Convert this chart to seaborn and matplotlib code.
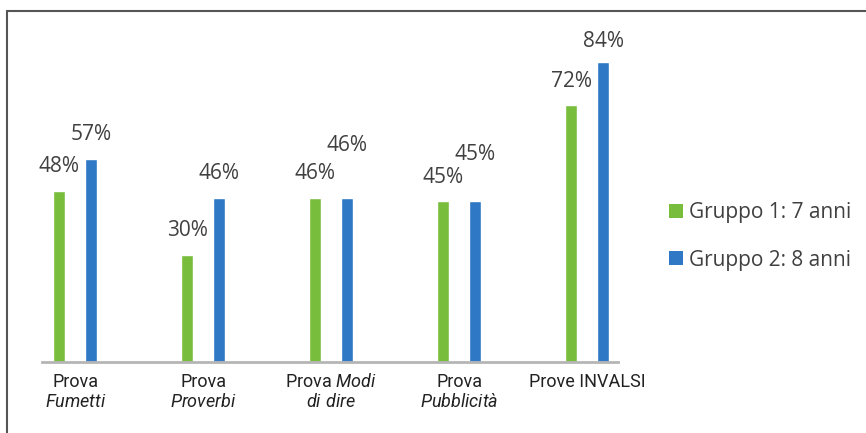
import matplotlib
matplotlib.use("Agg")
import matplotlib.pyplot as plt
from matplotlib.lines import Line2D
from matplotlib.patches import Patch
import seaborn as sns
import pandas as pd

# ---- data ----
categories = ["Prova Fumetti", "Prova Proverbi", "Prova Modi di dire",
              "Prova Pubblicità", "Prove INVALSI"]
tick_labels = ["Prova\n$Fumetti$", "Prova\n$Proverbi$", "Prova $Modi$\n$di\\ dire$",
               "Prova\n$Pubblicità$", "Prove INVALSI"]
groups = ["Gruppo 1: 7 anni", "Gruppo 2: 8 anni"]
gruppo1 = [48, 30, 46, 45, 72]
gruppo2 = [57, 46, 46, 45, 84]

# ---- style ----
colors = ["#79bd3c", "#2f78c5"]
label_dy_px = [[24, 24, 24, 24, 23], [24, 24, 52, 47, 21]]

sns.set_style("white")
plt.rcParams["font.family"] = ["Open Sans", "DejaVu Sans"]
plt.rcParams["mathtext.fontset"] = "custom"
plt.rcParams["mathtext.rm"] = "Roboto"
plt.rcParams["mathtext.it"] = "Roboto:italic"
plt.rcParams["mathtext.default"] = "it"

df = pd.DataFrame({
    "categoria": categories * 2,
    "gruppo": [groups[0]] * len(categories) + [groups[1]] * len(categories),
    "valore": gruppo1 + gruppo2,
})

fig = plt.figure(figsize=(8.66, 4.33), dpi=100, facecolor="white")
ax = fig.add_axes([42 / 866, 1 - 362 / 433, 576 / 866, (362 - 40.7) / 433])

sns.barplot(data=df, x="categoria", y="valore", hue="gruppo", order=categories,
            hue_order=groups, palette=colors, width=0.5, gap=0.625,
            saturation=1, legend=False, ax=ax, errorbar=None)

ax.set_xlim(-0.26, 4.24)
ax.set_ylim(0, 90)
ax.set_xlabel("")
ax.set_ylabel("")
ax.set_yticks([])
ax.set_xticks(range(len(categories)))
ax.set_xticklabels(tick_labels, fontsize=13, color="#222222", family="Roboto",
                   linespacing=1.15)
ax.tick_params(axis="x", length=0, pad=8)
for s in ["top", "right", "left"]:
    ax.spines[s].set_visible(False)
ax.spines["bottom"].set_color("#b5b5b5")
ax.spines["bottom"].set_linewidth(2)
ax.set_facecolor("none")

for gi, cont in enumerate(ax.containers):
    for ci, bar in enumerate(cont):
        h = bar.get_height()
        ax.annotate(f"{h:.0f}%", xy=(bar.get_x() + bar.get_width() / 2, h),
                    xytext=(0, label_dy_px[gi][ci]), textcoords="offset pixels",
                    ha="center", va="center", fontsize=15, color="#404040")

handles = [Patch(facecolor=c, edgecolor="none") for c in colors]
fig.legend(handles, groups, loc="center left",
           bbox_to_anchor=(669 / 866, 1 - 236.5 / 433), frameon=False,
           fontsize=15, handlelength=0.65, handleheight=0.65,
           handletextpad=0.3, labelspacing=1.25, borderpad=0, borderaxespad=0,
           labelcolor="#404040")

# frame lines (top and left border of the original image)
fig.add_artist(Line2D([7 / 866, 1], [1 - 10.7 / 433] * 2, transform=fig.transFigure,
                      color="#555555", lw=1.5))
fig.add_artist(Line2D([7 / 866] * 2, [0, 1 - 10.7 / 433], transform=fig.transFigure,
                      color="#555555", lw=1.5))

fig.savefig("out.png", dpi=100, facecolor="white")
